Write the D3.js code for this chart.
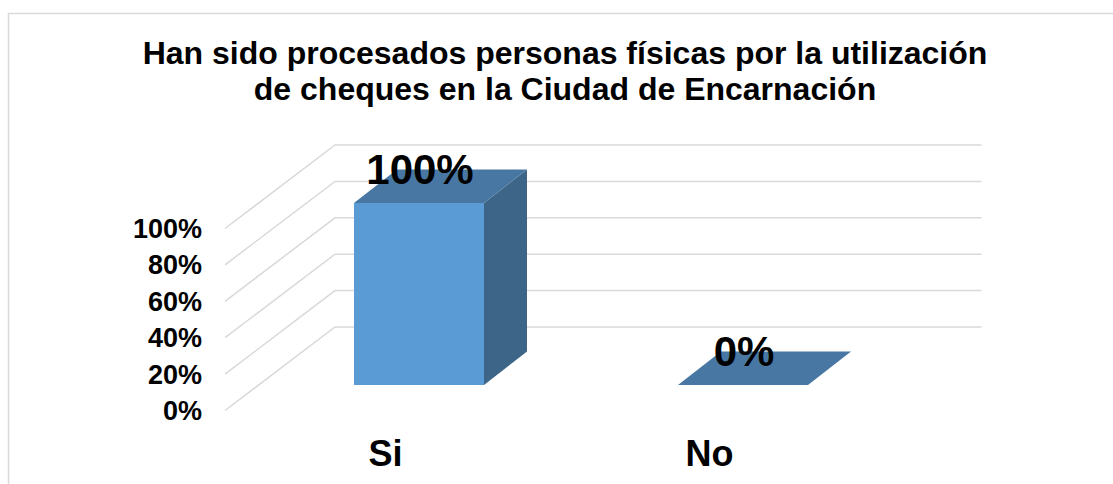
<!DOCTYPE html>
<html><head><meta charset="utf-8">
<script src="https://cdn.jsdelivr.net/npm/d3@7"></script>
<style>html,body{margin:0;padding:0;background:#fff}svg{display:block}text{font-family:"Liberation Sans",Arial,sans-serif;font-weight:bold;fill:#000}</style>
</head><body><svg id="c" width="1113" height="484"></svg>
<script>
const titleLines=["Han sido procesados personas físicas por la utilización","de cheques en la Ciudad de Encarnación"];
const categories=["Si","No"];
const values=[100,0];
const valueLabels=["100%","0%"];
const yTicks=[0,20,40,60,80,100];

const svg=d3.select("#c");
svg.append("path").attr("d","M8.5 484V13.5H1113").attr("fill","none").attr("stroke","#d9d9d9").attr("stroke-width",1.5);

svg.append("g").selectAll("text").data(titleLines).join("text")
 .attr("x",565).attr("y",(d,i)=>64+i*35.5).attr("text-anchor","middle").attr("font-size",32).text(d=>d);

// projection
const y=d3.scaleLinear().domain([0,100]).range([410.5,228.5]);
const wallDx=110, wallDy=-83.5, wallRight=981.5, wallX=225;
const grid=svg.append("g");
grid.selectAll("path").data(yTicks).join("path")
 .attr("d",t=>`M${wallX} ${y(t)}L${wallX+wallDx} ${y(t)+wallDy}H${wallRight}`)
 .attr("fill","none").attr("stroke","#d9d9d9").attr("stroke-width",1.5);

svg.append("g").selectAll("text").data(yTicks).join("text")
 .attr("x",202).attr("y",t=>y(t)+9.5).attr("text-anchor","end").attr("font-size",27).text(t=>t+"%");

// bars
const bar=d3.scaleBand().domain(categories).range([257,905]);
const barW=130, barDx=43, barDy=-33.5, floorShift=-25.5;
const cx=c=>bar(c)+bar.bandwidth()/2;
const left=c=>cx(c)-barW/2;
const g=svg.append("g");
const rows=categories.map((c,i)=>({c,v:values[i],l:valueLabels[i]}));
const by=v=>y(v)+floorShift;
g.selectAll("path.side").data(rows).join("path").attr("class","side")
 .attr("d",d=>{const r=left(d.c)+barW;return `M${r} ${by(0)}L${r+barDx} ${by(0)+barDy}V${by(d.v)+barDy}L${r} ${by(d.v)}Z`;})
 .attr("fill","#3c6587");
g.selectAll("rect.front").data(rows).join("rect").attr("class","front")
 .attr("x",d=>left(d.c)).attr("y",d=>by(d.v)).attr("width",barW).attr("height",d=>by(0)-by(d.v))
 .attr("fill","#5b9bd5");
g.selectAll("path.top").data(rows).join("path").attr("class","top")
 .attr("d",d=>{const l=left(d.c),t=by(d.v);return `M${l} ${t}H${l+barW}L${l+barW+barDx} ${t+barDy}H${l+barDx}Z`;})
 .attr("fill","#4777a2");

svg.append("g").selectAll("text").data(rows).join("text")
 .attr("x",d=>cx(d.c)+1).attr("y",d=>by(d.v)-19.5).attr("text-anchor","middle").attr("font-size",42).text(d=>d.l);

svg.append("g").selectAll("text").data(categories).join("text")
 .attr("x",c=>cx(c)-33.5).attr("y",466).attr("text-anchor","middle").attr("font-size",36).text(c=>c);
</script></body></html>
